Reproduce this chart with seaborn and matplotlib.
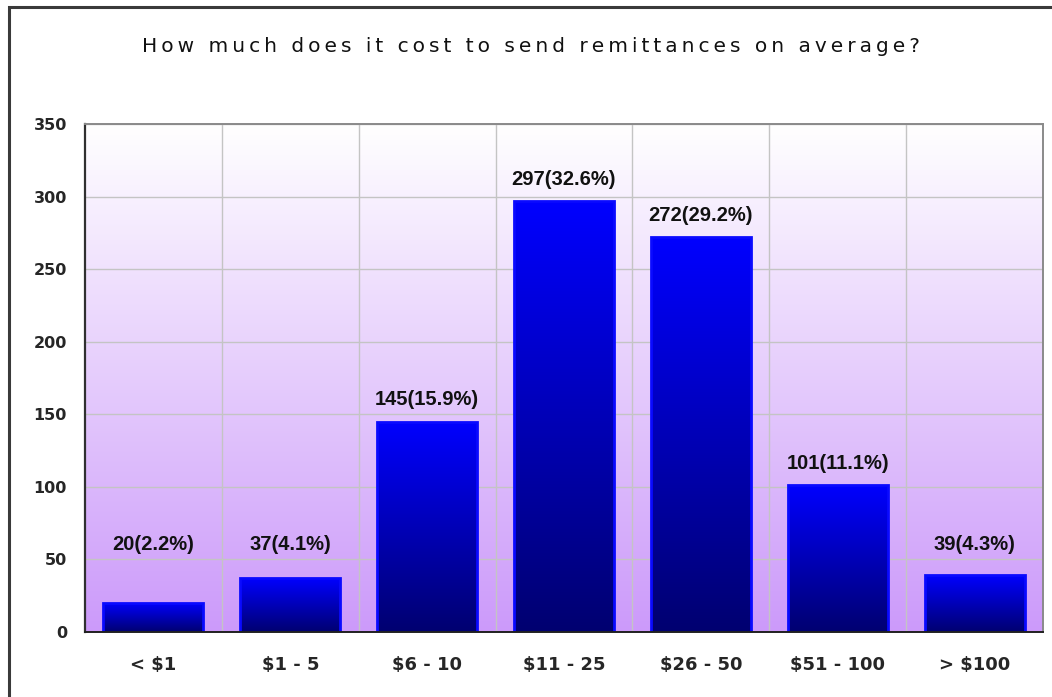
import numpy as np
import pandas as pd
import matplotlib
matplotlib.use("Agg")
import matplotlib.pyplot as plt
from matplotlib.colors import LinearSegmentedColormap
from matplotlib.patches import Rectangle
import seaborn as sns

# chart data
categories = ["< $1", "$1 - 5", "$6 - 10", "$11 - 25", "$26 - 50", "$51 - 100", "> $100"]
counts = [20, 37, 145, 297, 272, 101, 39]
percents = [2.2, 4.1, 15.9, 32.6, 29.2, 11.1, 4.3]
y_ticks = [0, 50, 100, 150, 200, 250, 300, 350]
title = "How much does it cost to send remittances on average?"

df = pd.DataFrame({"cost": categories, "count": counts, "pct": percents})

sns.set_style("white")
plt.rcParams["font.family"] = ["DejaVu Sans"]

fig = plt.figure(figsize=(10.52, 6.97), dpi=100)
ax = fig.add_axes([85 / 1052, 1 - 632 / 697, (1043 - 85) / 1052, (632 - 124) / 697])

# outer frame of the chart (right and bottom run off the image)
fig.patches.append(Rectangle((8.5 / 1052, -0.05), 1.2, 1 - 6.5 / 697 + 0.05,
                             transform=fig.transFigure, fill=False,
                             edgecolor="#3a3a3a", linewidth=2.2, zorder=0))

sns.barplot(data=df, x="cost", y="count", ax=ax, width=0.73,
            color="#0000ff", edgecolor="#0a0aff", linewidth=2, zorder=3)

# plot-area background gradient: white at top, lilac at bottom
bg = LinearSegmentedColormap.from_list("bg", ["#cc9afa", "#ffffff"])
ax.imshow(np.linspace(0, 1, 256).reshape(-1, 1), cmap=bg, aspect="auto",
          extent=(-0.5, len(categories) - 0.5, 0, 350), origin="lower", zorder=0)

# per-bar vertical gradient: blue on top, navy at the bottom
bar_cmap = LinearSegmentedColormap.from_list("bar", ["#000070", "#0000ff"])
for p in ax.patches:
    x0, y0 = p.get_x(), p.get_y()
    w, h = p.get_width(), p.get_height()
    im = ax.imshow(np.linspace(0, 1, 256).reshape(-1, 1), cmap=bar_cmap,
                   aspect="auto", extent=(x0, x0 + w, y0, y0 + h),
                   origin="lower", zorder=3.5)
    im.set_clip_path(p)
    p.set_facecolor("none")
    p.set_zorder(4)

ax.set_xlim(-0.5, len(categories) - 0.5)
ax.set_ylim(0, 350)

# grid: horizontal at ticks, vertical at category boundaries
ax.set_yticks(y_ticks)
ax.yaxis.grid(True, color="#c4c4c4", linewidth=1, zorder=1)
for b in np.arange(0.5, len(categories) - 0.5):
    ax.axvline(b, color="#c4c4c4", linewidth=1, zorder=1)
ax.set_axisbelow(True)

# boundary ticks on x axis
ax.set_xticks(np.arange(-0.5, len(categories)), minor=True)
ax.set_xticks(range(len(categories)))
ax.set_xticklabels(categories, fontsize=13, fontweight="bold")
ax.tick_params(axis="x", which="major", length=0, pad=17)
ax.tick_params(axis="x", which="minor", length=7, width=1.2, color="#303030", direction="out")
ax.tick_params(axis="y", length=8, width=1.2, color="#303030", direction="out",
               labelsize=11.5, pad=5)
for lab in ax.get_yticklabels():
    lab.set_fontweight("bold")

ax.set_xlabel("")
ax.set_ylabel("")

ax.spines["left"].set_color("#303030")
ax.spines["left"].set_linewidth(1.6)
ax.spines["bottom"].set_color("#202020")
ax.spines["bottom"].set_linewidth(1.4)
ax.spines["top"].set_color("#8a8a8a")
ax.spines["top"].set_linewidth(1.4)
ax.spines["right"].set_color("#8a8a8a")
ax.spines["right"].set_linewidth(1.4)
for s in ax.spines.values():
    s.set_visible(True)
    s.set_zorder(6)

# value labels above bars
for i, (c, pc) in enumerate(zip(counts, percents)):
    ax.text(i, max(c + 15, 60), f"{c}({pc}%)", ha="center", va="center",
            fontsize=14.5, fontweight="bold", family="Liberation Sans",
            color="#111111", zorder=7)

# title with wide letter spacing (thin spaces between characters)
fig.text(0.505, 1 - 47 / 697, "\u2009".join(title),
         ha="center", va="center", fontsize=14.5, color="#111111")

fig.savefig("out.png", dpi=100)
